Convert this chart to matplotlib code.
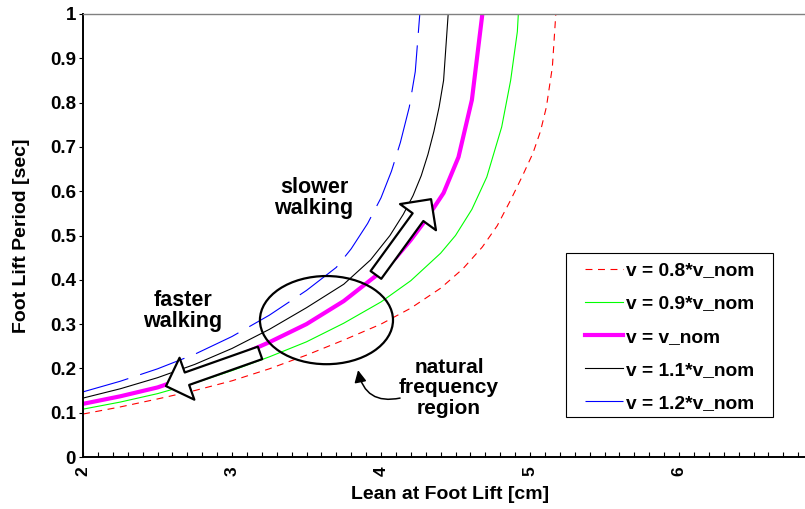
import matplotlib.pyplot as plt
from matplotlib.patches import Ellipse, Rectangle
from matplotlib.ticker import MultipleLocator

plt.rcParams['font.family'] = ['Liberation Sans', 'DejaVu Sans']
plt.rcParams['font.weight'] = 'bold'
plt.rcParams['axes.labelweight'] = 'bold'
plt.rcParams['lines.scale_dashes'] = False

# lean at foot lift [cm] -> foot lift period [sec], one pair per speed
lean_08 = [2.0, 2.25, 2.5, 2.75, 3.0, 3.25, 3.5, 3.75, 4.0, 4.2, 4.4, 4.55, 4.68, 4.78,
           4.87, 4.95, 5.02, 5.07, 5.11, 5.15, 5.18]
period_08 = [0.097, 0.113, 0.131, 0.150, 0.172, 0.199, 0.230, 0.264, 0.300, 0.336, 0.381,
             0.425, 0.474, 0.522, 0.58, 0.635, 0.686, 0.735, 0.79, 0.88, 1.035]

lean_09 = [2.0, 2.25, 2.5, 2.75, 3.0, 3.25, 3.5, 3.75, 4.0, 4.2, 4.4, 4.5, 4.61, 4.71,
           4.81, 4.87, 4.915, 4.93]
period_09 = [0.108, 0.124, 0.143, 0.167, 0.195, 0.226, 0.26, 0.302, 0.350, 0.398, 0.46,
             0.50, 0.559, 0.632, 0.745, 0.85, 0.96, 1.05]

lean_10 = [2.0, 2.25, 2.5, 2.75, 3.0, 3.25, 3.5, 3.75, 4.0, 4.1, 4.2, 4.3, 4.42, 4.52,
           4.61, 4.72]
period_10 = [0.120, 0.137, 0.157, 0.186, 0.222, 0.259, 0.300, 0.352, 0.418, 0.45, 0.49,
             0.535, 0.596, 0.677, 0.806, 1.11]

lean_11 = [2.0, 2.25, 2.5, 2.75, 3.0, 3.25, 3.5, 3.75, 3.93, 4.06, 4.15, 4.215, 4.27,
           4.315, 4.355, 4.39, 4.42, 4.455]
period_11 = [0.133, 0.154, 0.179, 0.209, 0.245, 0.288, 0.337, 0.39, 0.445, 0.50, 0.548,
             0.59, 0.635, 0.683, 0.735, 0.79, 0.85, 1.02]

lean_12 = [2.0, 2.25, 2.5, 2.75, 3.0, 3.25, 3.5, 3.7, 3.8, 3.91, 4.0, 4.07, 4.13, 4.19,
           4.23, 4.265]
period_12 = [0.147, 0.171, 0.199, 0.232, 0.272, 0.32, 0.376, 0.428, 0.47, 0.527, 0.585,
             0.645, 0.71, 0.79, 0.87, 1.02]

series_labels = ["v = 0.8*v_nom", "v = 0.9*v_nom", "v = v_nom",
                 "v = 1.1*v_nom", "v = 1.2*v_nom"]

x_ticks = [2, 3, 4, 5, 6]
y_ticks = [0, 0.1, 0.2, 0.3, 0.4, 0.5, 0.6, 0.7, 0.8, 0.9, 1.0]
y_tick_labels = ["0", "0.1", "0.2", "0.3", "0.4", "0.5", "0.6", "0.7", "0.8", "0.9", "1"]

W, H = 805, 509
fig = plt.figure(figsize=(W / 100, H / 100), dpi=100)
ax = fig.add_axes([83 / W, 52 / H, 745 / W, 443 / H])

ax.plot(lean_08, period_08, color="#ff0000", lw=0.8, dashes=(5, 4), label=series_labels[0])
ax.plot(lean_09, period_09, color="#00ff00", lw=0.8, label=series_labels[1])
ax.plot(lean_10, period_10, color="#ff00ff", lw=3.0, label=series_labels[2])
ax.plot(lean_11, period_11, color="black", lw=0.8, label=series_labels[3])
ax.plot(lean_12, period_12, color="#0000ff", lw=0.8, dashes=(34, 9), label=series_labels[4])

ax.set_xlim(2, 7)
ax.set_ylim(0, 1)

ax.set_xticks(x_ticks)
ax.xaxis.set_minor_locator(MultipleLocator(0.1))
ax.set_yticks(y_ticks)
ax.set_yticklabels(y_tick_labels)
ax.tick_params(axis='x', which='both', direction='in', length=3.6, width=0.8)
ax.tick_params(axis='x', which='major', pad=7, labelsize=12.5, labelrotation=90)
ax.tick_params(axis='y', direction='out', length=3, width=0.8, pad=2, labelsize=13.5)

for side in ["left", "bottom"]:
    ax.spines[side].set_linewidth(1.4)
ax.spines["top"].set_color("#808080")
ax.spines["top"].set_linewidth(1.0)
ax.spines["right"].set_visible(False)

ax.set_xlabel("Lean at Foot Lift [cm]", fontsize=14)
ax.set_ylabel("Foot Lift Period [sec]", fontsize=14)
ax.xaxis.set_label_coords((450 - 83) / 745, -0.066)
ax.yaxis.set_label_coords((30 - 83) / 745, 0.5)

# annotations
ax.add_patch(Ellipse((3.634, 0.309), 0.893, 0.199, fill=False, ec="black", lw=1.6, zorder=4))

block = "simple,head_length=1.6,head_width=3.2,tail_width=0.95"
ax.annotate("", xy=(4.336, 0.582), xytext=(3.966, 0.411),
            arrowprops=dict(arrowstyle=block, mutation_scale=10, fc="white", ec="black",
                            lw=1.6, shrinkA=0, shrinkB=0), zorder=5)
ax.annotate("", xy=(2.557, 0.160), xytext=(3.188, 0.235),
            arrowprops=dict(arrowstyle=block, mutation_scale=10, fc="white", ec="black",
                            lw=1.6, shrinkA=0, shrinkB=0), zorder=5)
ax.annotate("", xy=(3.846, 0.196), xytext=(4.128, 0.133),
            arrowprops=dict(arrowstyle="-|>,head_length=0.6,head_width=0.3",
                            connectionstyle="arc3,rad=-0.5", mutation_scale=12,
                            color="black", lw=1.1, shrinkA=0, shrinkB=0))

ax.text(3.55, 0.585, "slower\nwalking", ha="center", va="center", fontsize=15.5, linespacing=1.0)
ax.text(2.668, 0.33, "faster\nwalking", ha="center", va="center", fontsize=15.5, linespacing=1.0)
ax.text(4.456, 0.156, "natural\nfrequency\nregion", ha="center", va="center", fontsize=15,
        linespacing=1.08)

# legend: plain box drawn separately so the padding can match
ax.add_patch(Rectangle((566 / W, 1 - 417 / H), 207 / W, 164 / H, transform=fig.transFigure,
                       fc="white", ec="black", lw=0.8, zorder=4.5, clip_on=False))
ax.legend(loc="upper left", bbox_to_anchor=(585 / W, 1 - 262 / H), bbox_transform=fig.transFigure,
          fontsize=13.8, frameon=False, handlelength=2.0, handletextpad=0.15, borderpad=0,
          labelspacing=0.82, borderaxespad=0)

fig.savefig("out.png", dpi=100)
